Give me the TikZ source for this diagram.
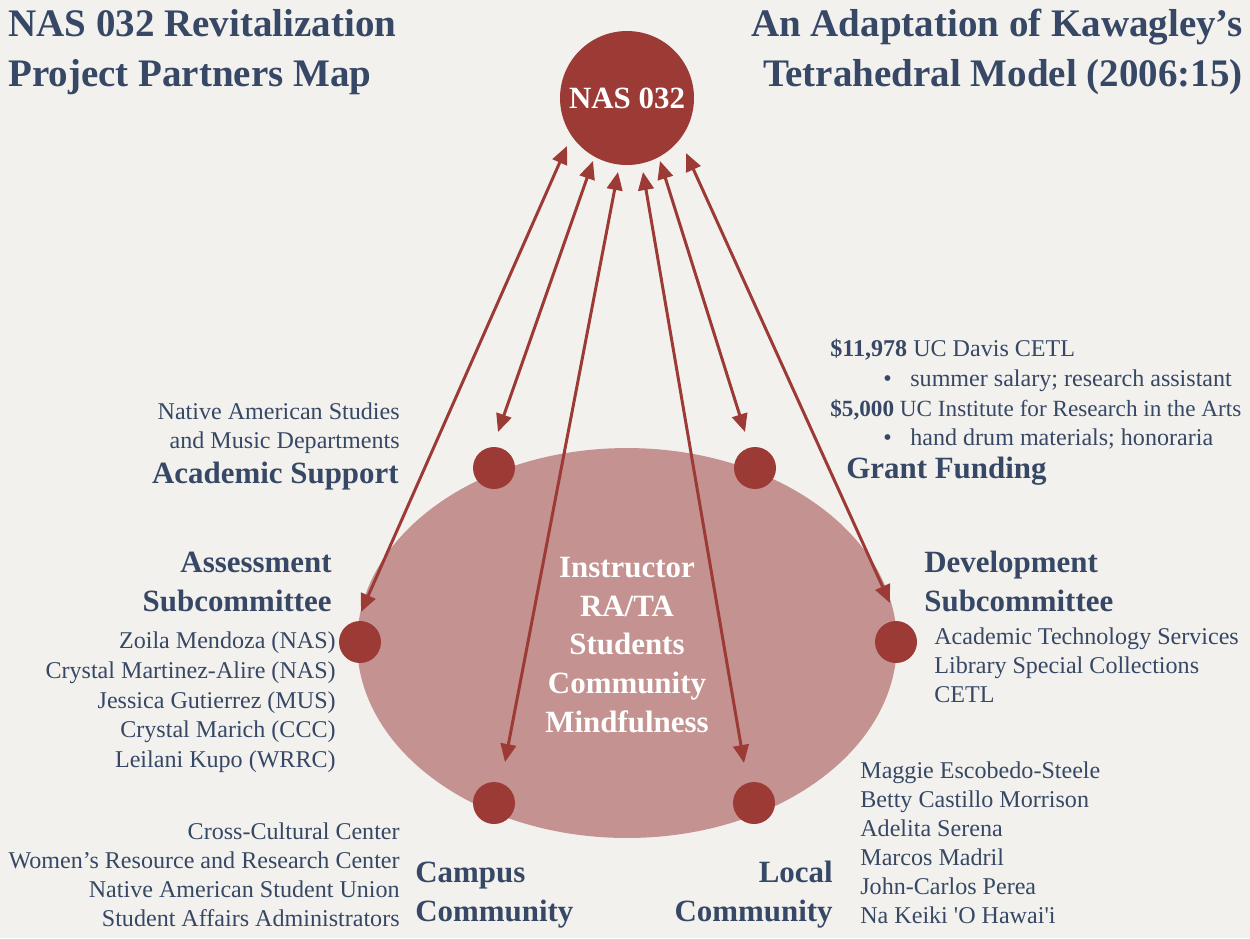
\documentclass[tikz,border=0pt]{standalone}
\usepackage{fontspec}
\setmainfont{Liberation Serif}
\usetikzlibrary{arrows.meta,shapes.geometric}
\definecolor{paper}{RGB}{243,241,237}
\definecolor{ink}{RGB}{54,72,101}
\definecolor{brick}{RGB}{156,58,54}
\definecolor{rose}{RGB}{196,146,144}
\begin{document}
\begin{tikzpicture}[x=0.02cm,y=-0.02cm,
  body/.style={font=\fontsize{13.7}{16}\selectfont, text=ink, inner sep=0},
  head/.style={font=\fontsize{17.6}{20}\selectfont\bfseries, text=ink, inner sep=0},
  ttl/.style={font=\fontsize{22.2}{26}\selectfont\bfseries, text=ink, inner sep=0},
  dot/.style={circle, fill=brick, minimum size=0.84cm, inner sep=0},
  link/.style={brick, line width=1.7pt, {Triangle[length=0.36cm,width=0.31cm]}-{Triangle[length=0.36cm,width=0.31cm]}}]
\fill[paper] (0,0) rectangle (1250,938);
\useasboundingbox (0,0) rectangle (1250,938);

% titles
\node[ttl, anchor=base west] (t1) at (8,36) {NAS 032 Revitalization};
\node[ttl, anchor=base west] (t2) at (8,86) {Project Partners Map};
\node[ttl, anchor=base east] (t3) at (1243,36) {An Adaptation of Kawagley’s};
\node[ttl, anchor=base east] (t4) at (1243,86) {Tetrahedral Model (2006:15)};

% central shapes
\node[ellipse, fill=rose, minimum width=10.8cm, minimum height=7.8cm, inner sep=0] (oval) at (627,643) {};
\node[circle, fill=brick, minimum size=2.68cm, inner sep=0, text=white,
      font=\fontsize{17.6}{20}\selectfont\bfseries] (nas) at (627,98) {NAS 032};

\node[dot] (acad) at (494,468) {};
\node[dot] (grant) at (755,468) {};
\node[dot] (assess) at (360,642) {};
\node[dot] (devel) at (896,642) {};
\node[dot] (campus) at (494,803) {};
\node[dot] (local) at (754,803) {};

\node[text=white, font=\fontsize{17.6}{22.1}\selectfont\bfseries, align=center, inner sep=0] (core) at (627,645)
  {Instructor\\RA/TA\\Students\\Community\\Mindfulness};

% arrow ends
\coordinate (a1t) at (567,146); \coordinate (a1b) at (361,612);
\coordinate (a2t) at (593,161); \coordinate (a2b) at (498,432);
\coordinate (a3t) at (618,172); \coordinate (a3b) at (505,762);
\coordinate (a4t) at (643,172); \coordinate (a4b) at (744,763);
\coordinate (a5t) at (660,161); \coordinate (a5b) at (745,432);
\coordinate (a6t) at (686,153); \coordinate (a6b) at (890,603);
\draw[link] (a1t) -- (a1b);
\draw[link] (a2t) -- (a2b);
\draw[link] (a3t) -- (a3b);
\draw[link] (a4t) -- (a4b);
\draw[link] (a5t) -- (a5b);
\draw[link] (a6t) -- (a6b);

% Academic support
\node[body, anchor=mid east] (as1) at (400,415) {Native American Studies};
\node[body, anchor=mid east] (as2) at (400,444) {and Music Departments};
\node[head, anchor=mid east] (as3) at (399,479) {Academic Support};

% Assessment
\node[head, anchor=mid east] (sc1) at (332,568) {Assessment};
\node[head, anchor=mid east] (sc2) at (332,607) {Subcommittee};
\node[body, anchor=mid east] (sm1) at (336,644) {Zoila Mendoza (NAS)};
\node[body, anchor=mid east] (sm2) at (336,674) {Crystal Martinez-Alire (NAS)};
\node[body, anchor=mid east] (sm3) at (336,704) {Jessica Gutierrez (MUS)};
\node[body, anchor=mid east] (sm4) at (336,733) {Crystal Marich (CCC)};
\node[body, anchor=mid east] (sm5) at (336,763) {Leilani Kupo (WRRC)};

% Campus community
\node[body, anchor=mid east] (cc1) at (400,835) {Cross-Cultural Center};
\node[body, anchor=mid east] (cc2) at (400,864) {Women’s Resource and Research Center};
\node[body, anchor=mid east] (cc3) at (400,893) {Native American Student Union};
\node[body, anchor=mid east] (cc4) at (400,922) {Student Affairs Administrators};
\node[head, anchor=mid west] (ch1) at (415,878) {Campus};
\node[head, anchor=mid west] (ch2) at (415,917) {Community};

% Local community
\node[head, anchor=mid east] (lh1) at (833,878) {Local};
\node[head, anchor=mid east] (lh2) at (833,917) {Community};
\node[body, anchor=mid west] (lc1) at (860,774) {Maggie Escobedo-Steele};
\node[body, anchor=mid west] (lc2) at (860,803) {Betty Castillo Morrison};
\node[body, anchor=mid west] (lc3) at (860,832) {Adelita Serena};
\node[body, anchor=mid west] (lc4) at (860,861) {Marcos Madril};
\node[body, anchor=mid west] (lc5) at (860,890) {John-Carlos Perea};
\node[body, anchor=mid west] (lc6) at (860,919) {Na Keiki \textquotesingle O Hawai\textquotesingle i};

% Development
\node[head, anchor=mid west] (dh1) at (924,568) {Development};
\node[head, anchor=mid west] (dh2) at (924,607) {Subcommittee};
\node[body, anchor=mid west] (dv1) at (934,640) {Academic Technology Services};
\node[body, anchor=mid west] (dv2) at (934,669) {Library Special Collections};
\node[body, anchor=mid west] (dv3) at (934,698) {CETL};

% Grant funding
\node[body, anchor=mid west] (gf1) at (830,352) {\textbf{\$11,978} UC Davis CETL};
\node[body, anchor=mid west] (gb1) at (883,382) {•};
\node[body, anchor=mid west] (gf2) at (910,382) {summer salary; research assistant};
\node[body, anchor=mid west, font=\fontsize{13.2}{16}\selectfont] (gf3) at (830,412) {\textbf{\$5,000} UC Institute for Research in the Arts};
\node[body, anchor=mid west] (gb2) at (883,441) {•};
\node[body, anchor=mid west] (gf4) at (910,441) {hand drum materials; honoraria};
\node[head, anchor=mid west] (gh) at (846,474) {Grant Funding};
\end{tikzpicture}
\end{document}
